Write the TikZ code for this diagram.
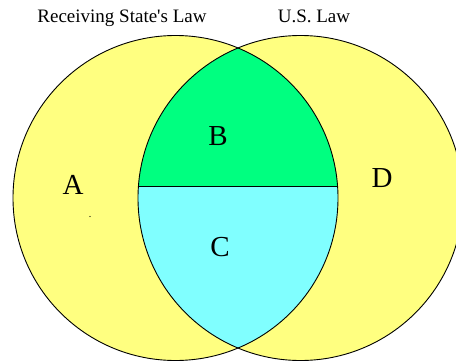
\documentclass[tikz,border=0pt]{standalone}
\usepackage{fontspec}
\setmainfont{Liberation Serif}
\definecolor{lawyellow}{HTML}{FFFF80}
\definecolor{lawgreen}{HTML}{00FF80}
\definecolor{lawcyan}{HTML}{80FFFF}
\begin{document}
\begin{tikzpicture}[x=1pt, y=-1pt]
        \tikzset{
            lawcircle/.style={draw=black, line width=0.9pt},
            splitline/.style={draw=black, line width=1pt},
            regionlabel/.style={font=\fontsize{29}{30}\selectfont, anchor=base, inner sep=0pt},
            titletext/.style={font=\fontsize{19}{21}\selectfont, anchor=base, inner sep=0pt}
        }

        \clip (0,0) rectangle (456,362);
        \fill[white] (0,0) rectangle (456,362);

        % both sets
        \fill[lawyellow] (175.5,198) circle (162.5);
        \fill[lawyellow] (300.5,198) circle (162.5);

        % overlap, split in two
        \begin{scope}
            \clip (175.5,198) circle (162.5);
            \clip (300.5,198) circle (162.5);
            \fill[lawgreen] (0,0) rectangle (456,186.5);
            \fill[lawcyan] (0,186.5) rectangle (456,362);
        \end{scope}

        \draw[lawcircle] (175.5,198) circle (162.5);
        \draw[lawcircle] (300.5,198) circle (162.5);
        \coordinate (chordL) at (138.4,186.5);
        \coordinate (chordR) at (337.6,186.5);
        \draw[splitline] (chordL) -- (chordR);

        \node[titletext] (stateLaw) at (122,22) {Receiving State\textquotesingle s Law};
        \node[titletext] (usLaw) at (314,22) {U.S. Law};

        \node[regionlabel] (regA) at (73,194) {A};
        \node[regionlabel] (regB) at (218,145) {B};
        \node[regionlabel] (regC) at (220,256) {C};
        \node[regionlabel] (regD) at (382,187) {D};

        \coordinate (speck) at (90,216.5);
        \fill (speck) circle (0.7);
\end{tikzpicture}
\end{document}
